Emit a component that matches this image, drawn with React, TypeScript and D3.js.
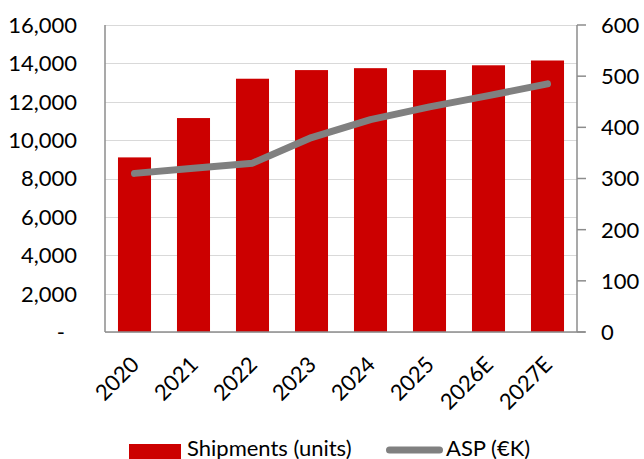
import React from "react";
import * as d3 from "d3";

// Annual shipments (bars, left axis) and average selling price (line, right axis)
const years: string[] = ["2020", "2021", "2022", "2023", "2024", "2025", "2026E", "2027E"];
const shipments: number[] = [9100, 11150, 13200, 13650, 13750, 13650, 13900, 14150];
const aspK: number[] = [310, 320, 330, 380, 415, 440, 462, 485];

const leftTicks: number[] = [0, 2000, 4000, 6000, 8000, 10000, 12000, 14000, 16000];
const rightTicks: number[] = [0, 100, 200, 300, 400, 500, 600];

const legendBar = "Shipments (units)";
const legendLine = "ASP (€K)";

const W = 644;
const H = 459;
const plot = { left: 105, right: 577, top: 25, bottom: 332 };

const BAR = "#CC0000";
const LINE = "#808080";
const AXIS = "#8C8C8C";
const GRID = "#D9D9D9";
const FONT = "Lato, 'Noto Sans', sans-serif";
const FS = 22;

export default function App() {
  const x = d3
    .scaleBand<string>()
    .domain(years)
    .range([plot.left, plot.right])
    .paddingInner(0.44)
    .paddingOuter(0.22);

  const yLeft = d3.scaleLinear().domain([0, 16000]).range([plot.bottom, plot.top]);
  const yRight = d3.scaleLinear().domain([0, 600]).range([plot.bottom, plot.top]);

  const fmt = d3.format(",");
  const cx = (y: string) => (x(y) ?? 0) + x.bandwidth() / 2;

  const linePath = d3
    .line<number>()
    .x((_, i) => cx(years[i]))
    .y((d) => yRight(d))(aspK);

  return (
    <svg
      width={W}
      height={H}
      style={{ position: "absolute", left: 0, top: 0, display: "block" }}
      fontFamily={FONT}
      fontSize={FS}
    >
      <rect width={W} height={H} fill="#fff" />

      {/* horizontal gridlines */}
      {leftTicks.map((t) => (
        <line
          key={"g" + t}
          x1={plot.left}
          x2={plot.right}
          y1={Math.round(yLeft(t)) + 0.5}
          y2={Math.round(yLeft(t)) + 0.5}
          stroke={GRID}
          strokeWidth={1}
        />
      ))}

      {/* shipment bars */}
      {shipments.map((v, i) => (
        <rect
          key={"b" + years[i]}
          x={x(years[i])}
          y={yLeft(v)}
          width={x.bandwidth()}
          height={plot.bottom - yLeft(v)}
          fill={BAR}
        />
      ))}

      {/* axes */}
      <line x1={plot.left} x2={plot.left} y1={plot.top} y2={plot.bottom} stroke={AXIS} strokeWidth={1.5} />
      <line x1={plot.right} x2={plot.right} y1={plot.top} y2={plot.bottom} stroke={AXIS} strokeWidth={1.5} />
      <line x1={plot.left} x2={plot.right + 8} y1={plot.bottom} y2={plot.bottom} stroke={AXIS} strokeWidth={1.5} />
      {rightTicks.map((t) => (
        <line
          key={"rt" + t}
          x1={plot.right}
          x2={plot.right + 9}
          y1={yRight(t)}
          y2={yRight(t)}
          stroke={AXIS}
          strokeWidth={1.5}
        />
      ))}

      {/* ASP line */}
      <path
        d={linePath ?? ""}
        fill="none"
        stroke={LINE}
        strokeWidth={7}
        strokeLinecap="round"
        strokeLinejoin="round"
      />

      {/* left axis labels */}
      {leftTicks.map((t) => (
        <text
          key={"lt" + t}
          x={t === 0 ? 65 : 77}
          y={yLeft(t)}
          dy="0.36em"
          textAnchor="end"
          fill="#000"
        >
          {t === 0 ? "-" : fmt(t)}
        </text>
      ))}

      {/* right axis labels */}
      {rightTicks.map((t) => (
        <text key={"rl" + t} x={601} y={yRight(t)} dy="0.36em" textAnchor="start" fill="#000">
          {t}
        </text>
      ))}

      {/* category labels */}
      {years.map((y) => (
        <text
          key={"x" + y}
          transform={`translate(${cx(y) + 6},${366}) rotate(-45)`}
          textAnchor="end"
          fill="#000"
        >
          {y}
        </text>
      ))}

      {/* legend */}
      <rect x={129} y={444} width={52} height={16} fill={BAR} />
      <text x={187} y={456} fill="#000">
        {legendBar}
      </text>
      <line x1={389.5} x2={439.5} y1={450} y2={450} stroke={LINE} strokeWidth={7} strokeLinecap="round" />
      <text x={446} y={456} fill="#000">
        {legendLine}
      </text>
    </svg>
  );
}
